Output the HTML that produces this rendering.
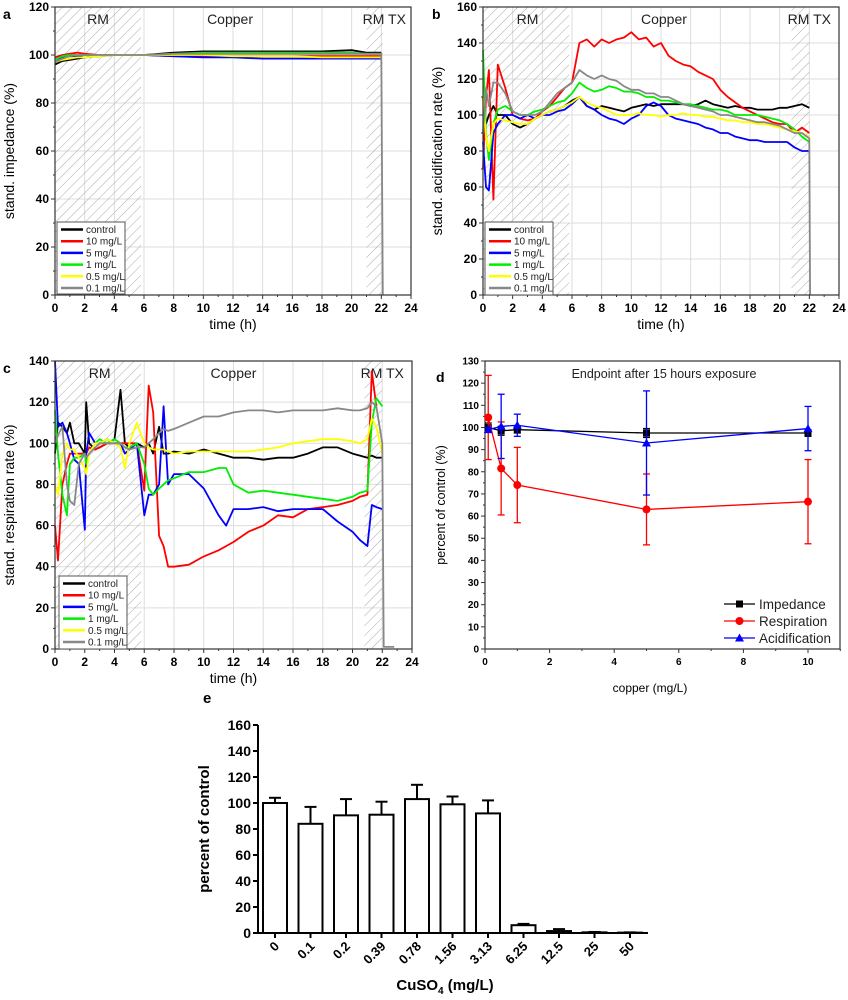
<!DOCTYPE html>
<html><head><meta charset="utf-8"><style>
html,body{margin:0;padding:0;background:#fff;}
svg{display:block;font-family:"Liberation Sans",Arial,sans-serif;}
</style></head><body>
<svg id="fig" width="848" height="1000" viewBox="0 0 848 1000" xmlns="http://www.w3.org/2000/svg">
<defs>
<pattern id="hatch" patternUnits="userSpaceOnUse" width="7" height="7" patternTransform="rotate(45)">
<line x1="0" y1="0" x2="0" y2="7" stroke="#aaa" stroke-width="1"/>
</pattern>
</defs>
</svg>
<script>
// ---------- Panel a data ----------
const tA=[0,0.5,1,1.5,2,3,4,5,6,8,10,12,14,16,18,20,21,22,22.1];
const aControl=[96,97.5,98,98.5,99,99.5,100,100,100,101,101.5,101.5,101.5,101.5,101.5,102,101,101,null];
const a10=[99,100,100.5,101,100.5,100,100,100,100,99.5,99.5,99.5,99.5,99.5,99.5,99.5,99.5,99.5,null];
const a5=[98,99,99.5,99.5,100,100,100,100,100,99.5,99,99,98.5,98.5,98.5,98.5,98.5,98.5,null];
const a1=[98,99.5,100,100,100,100,100,100,100,100.5,101,101,101,101,101,101,100.5,100.5,null];
const a05=[97,98,98.5,99,99,99.5,100,100,100,100,100,99.5,99.5,99.5,99,99,99,99,null];
const a01=[97,98.5,99.5,100,100,100,100,100,100,100.5,100.5,100.5,100.5,100.5,100.5,100.5,100.5,100.5,0];
// ---------- Panel b data ----------
const tB=[0,0.2,0.4,0.7,1,1.5,2,2.5,3,3.5,4,4.5,5,5.5,6,6.5,7,7.5,8,8.5,9,9.5,10,10.5,11,11.5,12,12.5,13,13.5,14,14.5,15,15.5,16,16.5,17,17.5,18,18.5,19,19.5,20,20.5,21,21.5,22,22.05];
const bControl=[110,95,100,105,100,100,95,93,95,98,100,102,103,105,108,110,105,103,105,104,103,102,104,105,106,105,106,106,106,106,105,106,108,106,105,104,105,104,104,103,103,103,104,104,105,106,104,null];
const b10=[70,110,125,53,128,115,100,98,97,98,102,105,110,115,118,140,142,138,142,140,142,143,146,142,143,138,140,133,130,128,127,124,122,120,114,110,107,104,102,100,98,96,95,95,90,93,90,null];
const b5=[85,60,58,90,95,100,100,98,100,98,100,100,102,103,106,110,105,103,100,98,97,95,98,100,105,107,105,100,98,97,96,95,93,92,90,90,88,87,86,86,85,85,85,85,82,80,80,null];
const b1=[136,90,75,95,103,105,102,100,100,102,103,105,107,108,112,118,115,113,114,116,115,113,113,112,110,110,108,108,107,106,106,105,104,103,103,102,100,100,100,100,99,98,97,95,92,88,85,null];
const b05=[110,88,80,95,98,97,96,95,95,98,100,102,103,105,107,110,107,105,104,102,100,100,100,101,100,100,99,100,100,101,100,100,99,99,98,97,97,96,96,95,95,94,93,92,91,90,88,null];
const b01=[90,115,105,118,118,112,102,100,100,100,102,107,112,115,118,125,122,120,122,120,119,116,114,114,112,112,110,110,108,106,105,104,103,102,100,100,99,98,97,96,96,95,94,92,90,90,87,0];
// ---------- Panel c data ----------
const tC=[0,0.2,0.5,0.8,1,1.3,1.6,2,2.1,2.3,2.7,3,3.5,4,4.4,4.7,5,5.5,6,6.3,6.6,7,7.3,7.6,8,9,10,11,11.5,12,13,14,15,16,17,18,19,20,20.5,21,21.3,21.6,22,22.1,22.8];
const cControl=[95,110,108,105,110,100,100,95,120,100,97,98,100,102,126,100,98,100,98,100,95,108,95,95,96,95,97,95,94,93,93,92,93,93,95,98,98,95,94,93,94,93,93,null,null];
const c10=[60,43,80,90,95,95,95,95,95,98,97,98,100,100,100,100,100,100,77,128,115,55,50,40,40,41,45,48,50,52,57,60,65,64,68,69,70,72,74,75,135,118,null,null,null];
const c5=[140,108,110,105,100,92,90,58,95,105,100,100,102,100,100,95,97,100,65,75,75,80,118,80,85,85,78,65,60,68,68,69,67,68,68,68,62,57,53,50,70,69,68,null,null];
const c1=[116,95,75,65,90,93,93,95,90,95,100,102,100,102,100,98,98,100,90,78,75,78,80,82,83,86,86,88,88,80,76,77,76,75,74,73,72,74,76,77,110,122,118,null,null];
const c05=[80,75,95,100,97,97,93,88,85,95,100,100,102,100,98,88,100,110,100,98,97,97,97,96,95,96,96,96,96,96,96,97,98,100,101,102,102,101,100,102,112,108,95,null,null];
const c01=[100,104,108,80,72,70,90,95,93,95,98,100,100,100,100,98,97,98,98,100,102,105,107,106,107,110,113,113,114,115,116,116,115,116,116,116,117,116,116,117,120,118,100,1,1];
// ---------- Panel d data ----------
const dConc=[0.1,0.5,1,5,10];
const dImp=[100,98.5,99,97.5,97.5];
const dImpErr=[2,2,1.5,2,1.5];
const dResp=[104.5,81.5,74,63,66.5];
const dRespErr=[19,21,17,16,19];
const dAcid=[99,100.5,101,93,99.5];
const dAcidErr=[1,14.5,5,23.5,10];
// ---------- Panel e data ----------
const eCats=["0","0.1","0.2","0.39","0.78","1.56","3.13","6.25","12.5","25","50"];
const eVals=[100,84,90.5,91,103,99,92,6,1.5,0.5,0.3];
const eErr=[4,13,12.5,10,11,6,10,1,1.5,0.3,0.2];

const NS="http://www.w3.org/2000/svg";
const fig=document.getElementById('fig');
function el(tag,attrs,parent){const e=document.createElementNS(NS,tag);for(const k in attrs)e.setAttribute(k,attrs[k]);(parent||fig).appendChild(e);return e;}
function txt(str,attrs,parent){const e=el('text',attrs,parent);e.textContent=str;return e;}

const seriesNames=["control","10 mg/L","5 mg/L","1 mg/L","0.5 mg/L","0.1 mg/L"];
const seriesColors=["#000","#f00","#00f","#0e0","#ff0","#888"];

function timePanel(p){
  const g=el('g',{});
  
  
  const sx=v=>p.L+(p.R-p.L)*v/24, sy=v=>p.B-(p.B-p.T)*v/p.ymax;
  // grid
  for(let x=2;x<24;x+=2){el('line',{x1:sx(x),x2:sx(x),y1:p.T,y2:p.B,stroke:'#ddd','stroke-width':1},g);}
  for(let y=p.ystep;y<p.ymax;y+=p.ystep){el('line',{x1:p.L,x2:p.R,y1:sy(y),y2:sy(y),stroke:'#ddd','stroke-width':1},g);}
  // hatched regions
  p.hatch.forEach(h=>{const r=el('rect',{x:sx(h[0]),y:p.T,width:sx(h[1])-sx(h[0]),height:p.B-p.T,fill:'url(#hatch)'},g);
    });
  // phase labels
  p.phases.forEach(ph=>{const t=txt(ph[0],{x:sx(ph[1]),y:p.T+17,'font-size':14,'text-anchor':'middle',fill:'#222'},g);
    });
  // series
  p.series.forEach((s,i)=>{let d='';let pen=false;
    for(let k=0;k<p.t.length&&k<s.length;k++){ if(s[k]===null){pen=false;continue;}
      d+=(pen?'L':'M')+sx(p.t[k]).toFixed(1)+' '+sy(s[k]).toFixed(1);pen=true;}
    const pa=el('path',{d:d,fill:'none',stroke:seriesColors[i],'stroke-width':1.8,'stroke-linejoin':'round'},g);
    
    
  });
  // frame
  el('rect',{x:p.L,y:p.T,width:p.R-p.L,height:p.B-p.T,fill:'none',stroke:'#333','stroke-width':1.2},g);
  // ticks
  for(let x=0;x<=24;x++){const maj=x%2==0;el('line',{x1:sx(x),x2:sx(x),y1:p.B,y2:p.B+(maj?4:2),stroke:'#333'},g);
    if(maj){const t=txt(String(x),{x:sx(x),y:p.B+17,'font-size':12,'font-weight':'bold','text-anchor':'middle'},g);
      }}
  for(let y=0;y<=p.ymax;y+=p.ystep/2){const maj=(y%p.ystep)==0;el('line',{x1:p.L,x2:p.L-(maj?4:2),y1:sy(y),y2:sy(y),stroke:'#333'},g);
    if(maj){const t=txt(String(y),{x:p.L-6,y:sy(y)+4,'font-size':12,'font-weight':'bold','text-anchor':'end'},g);
      }}
  const xl=txt('time (h)',{x:(p.L+p.R)/2,y:p.B+34,'font-size':14,'text-anchor':'middle'},g);
  
  const yl=txt(p.ylabel,{x:0,y:0,'font-size':14,'text-anchor':'middle',transform:`translate(${p.L-41},${(p.T+p.B)/2}) rotate(-90)`},g);
  
  const pl=txt(p.letter,{x:p.letterX,y:p.T+12,'font-size':14,'font-weight':'bold'},g);
  
  // legend
  const lg=el('g',{},g);
  
  el('rect',{x:p.leg[0],y:p.leg[1],width:p.leg[2],height:p.leg[3],fill:'#fff',stroke:'#555'},lg);
  seriesNames.forEach((n,i)=>{const yy=p.leg[1]+7.5+i*11.7;
    el('line',{x1:p.leg[0]+4,x2:p.leg[0]+26,y1:yy,y2:yy,stroke:seriesColors[i],'stroke-width':2.5},lg);
    const t=txt(n,{x:p.leg[0]+29,y:yy+3.5,'font-size':10,fill:'#222'},lg);
    });
}

timePanel({name:'panel-a-impedance',L:55,R:411,T:7,B:295,ymax:120,ystep:20,t:tA,series:[aControl,a10,a5,a1,a05,a01],
  hatch:[[0,5.8],[21,22.1]],phases:[['RM',2.9],['Copper',11.8],['RM TX',22.2]],ylabel:'stand. impedance (%)',letter:'a',letterX:3,leg:[57,222,68,72]});
timePanel({name:'panel-b-acidification',L:483,R:839,T:7,B:295,ymax:160,ystep:20,t:tB,series:[bControl,b10,b5,b1,b05,b01],
  hatch:[[0,5.8],[20.8,22]],phases:[['RM',3],['Copper',12.2],['RM TX',22]],ylabel:'stand. acidification rate (%)',letter:'b',letterX:432,leg:[485,222,68,73]});
timePanel({name:'panel-c-respiration',L:55,R:412,T:361,B:649,ymax:140,ystep:20,t:tC,series:[cControl,c10,c5,c1,c05,c01],
  hatch:[[0,5.8],[20.8,22]],phases:[['RM',3],['Copper',12],['RM TX',22]],ylabel:'stand. respiration rate (%)',letter:'c',letterX:3,leg:[59,576,68,73]});

// ---------- Panel d ----------
(function(){
  const L=485,R=840,T=361,B=649,ymax=130;
  const sx=v=>L+32.3*v, sy=v=>B-(B-T)*v/ymax;
  const g=el('g',{});
  el('rect',{x:L,y:T,width:R-L,height:B-T,fill:'none',stroke:'#333','stroke-width':1.2},g);
  for(let x=0;x<=11;x++){const maj=x%2==0;el('line',{x1:sx(x),x2:sx(x),y1:B,y2:B+(maj?4:2),stroke:'#333'},g);
    if(maj&&x<=10){const t=txt(String(x),{x:sx(x),y:B+16,'font-size':10,'font-weight':'bold','text-anchor':'middle'},g);
      }}
  for(let y=0;y<=ymax;y+=5){const maj=y%10==0;el('line',{x1:L,x2:L-(maj?4:2),y1:sy(y),y2:sy(y),stroke:'#333'},g);
    if(maj){const t=txt(String(y),{x:L-6,y:sy(y)+3.5,'font-size':10,'font-weight':'bold','text-anchor':'end'},g);
      }}
  const tt=txt('Endpoint after 15 hours exposure',{x:664,y:378,'font-size':12.5,'text-anchor':'middle',fill:'#222'},g);
  
  const xl=txt('copper (mg/L)',{x:650,y:692,'font-size':12,'text-anchor':'middle'},g);
  
  const yl=txt('percent of control (%)',{x:0,y:0,'font-size':12.5,'text-anchor':'middle',transform:`translate(445,${(T+B)/2}) rotate(-90)`},g);
  
  const pl=txt('d',{x:436,y:382,'font-size':14,'font-weight':'bold'},g);
  
  const defs=[[dImp,dImpErr,'#000','square','Impedance'],[dResp,dRespErr,'#f00','circle','Respiration'],[dAcid,dAcidErr,'#00f','triangle','Acidification']];
  defs.forEach((s,si)=>{
    const sg=el('g',{},g);
    s[0].forEach((v,i)=>{const x=sx(dConc[i]);
      el('line',{x1:x,x2:x,y1:sy(v+s[1][i]),y2:sy(v-s[1][i]),stroke:s[2],'stroke-width':1.3},sg);
      [v+s[1][i],v-s[1][i]].forEach(e=>el('line',{x1:x-3.5,x2:x+3.5,y1:sy(e),y2:sy(e),stroke:s[2],'stroke-width':1.3},sg));});
    el('polyline',{points:s[0].map((v,i)=>sx(dConc[i])+','+sy(v)).join(' '),fill:'none',stroke:s[2],'stroke-width':1.3},sg);
    s[0].forEach((v,i)=>{const x=sx(dConc[i]),y=sy(v);let m;
      if(s[3]=='square')m=el('rect',{x:x-3.5,y:y-3.5,width:7,height:7,fill:s[2]},sg);
      else if(s[3]=='circle')m=el('circle',{cx:x,cy:y,r:4,fill:s[2]},sg);
      else m=el('polygon',{points:`${x},${y-4.5} ${x-4.5},${y+3.5} ${x+4.5},${y+3.5}`,fill:s[2]},sg);
      });
    const ly=604+si*17;
    const lg=el('g',{},g);
    el('line',{x1:724,x2:755,y1:ly,y2:ly,stroke:s[2],'stroke-width':1.3},lg);
    if(s[3]=='square')el('rect',{x:736,y:ly-3.5,width:7,height:7,fill:s[2]},lg);
    else if(s[3]=='circle')el('circle',{cx:739.5,cy:ly,r:4,fill:s[2]},lg);
    else el('polygon',{points:`739.5,${ly-4.5} 735,${ly+3.5} 744,${ly+3.5}`,fill:s[2]},lg);
    txt(s[4],{x:759,y:ly+5,'font-size':13.5,fill:'#222'},lg);
  });
})();

// ---------- Panel e ----------
(function(){
  const L=258,T=725,B=933,ymax=160;
  const sy=v=>B-(B-T)*v/ymax, cx=i=>275+35.5*i;
  const g=el('g',{});
  el('line',{x1:L,x2:L,y1:T,y2:B,stroke:'#000','stroke-width':2},g);
  el('line',{x1:L-4,x2:cx(eCats.length-1)+18,y1:B,y2:B,stroke:'#000','stroke-width':2},g);
  for(let y=0;y<=ymax;y+=20){el('line',{x1:L-5,x2:L,y1:sy(y),y2:sy(y),stroke:'#000','stroke-width':2},g);
    const t=txt(String(y),{x:L-7,y:sy(y)+5,'font-size':14,'font-weight':'bold','text-anchor':'end'},g);
    }
  eVals.forEach((v,i)=>{const x=cx(i);
    const bg=el('g',{},g);
    el('line',{x1:x,x2:x,y1:sy(v),y2:sy(v+eErr[i]),stroke:'#000','stroke-width':2},bg);
    el('line',{x1:x-6,x2:x+6,y1:sy(v+eErr[i]),y2:sy(v+eErr[i]),stroke:'#000','stroke-width':2},bg);
    el('rect',{x:x-12,y:sy(v),width:24,height:B-sy(v),fill:'#fff',stroke:'#000','stroke-width':2},bg);
    el('line',{x1:x,x2:x,y1:B,y2:B+5,stroke:'#000','stroke-width':2},g);
    const t=txt(eCats[i],{x:0,y:0,'font-size':13,'font-weight':'bold','text-anchor':'end',transform:`translate(${x+5},${B+14}) rotate(-45)`},g);
    });
  const xl=el('text',{x:445,y:990,'font-size':15,'font-weight':'bold','text-anchor':'middle'},g);
  xl.innerHTML='CuSO<tspan font-size="10" dy="4">4</tspan><tspan dy="-4"> (mg/L)</tspan>';
  
  const yl=txt('percent of control',{x:0,y:0,'font-size':15,'font-weight':'bold','text-anchor':'middle',transform:`translate(209,${(T+B)/2}) rotate(-90)`},g);
  
  const pl=txt('e',{x:203,y:703,'font-size':15,'font-weight':'bold'},g);
  
})();
</script>
</body></html>
